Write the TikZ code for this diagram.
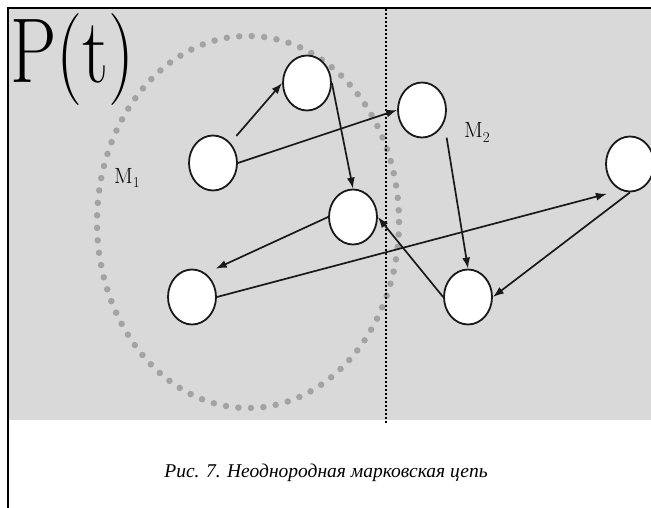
\documentclass[tikz,border=0pt]{standalone}
\usepackage{fontspec}
\setmainfont{Liberation Serif}
\newfontfamily\lmfont{Latin Modern Roman}
\usetikzlibrary{shapes.geometric,arrows.meta}
\definecolor{bg}{RGB}{217,217,217}
\definecolor{dotgray}{RGB}{163,163,163}
\definecolor{edgec}{RGB}{25,25,25}
\tikzset{
  state/.style={ellipse, draw=edgec, line width=1.8pt, fill=white,
    minimum width=48pt, minimum height=55pt, inner sep=0pt},
  arr/.style={draw=edgec, line width=1.7pt, -{Latex[length=11pt,width=8pt]}},
  lbl/.style={anchor=base west, inner sep=0pt, font=\lmfont\fontsize{22}{22}\selectfont},
  frame/.style={draw=black, line width=2pt},
}
\begin{document}
\begin{tikzpicture}[x=1pt,y=-1pt]
\useasboundingbox (0,0) rectangle (651,508);
% background panel
\fill[bg] (9,9) rectangle (651,420);
% frame lines
\draw[frame] (7,8) -- (651,8);
\draw[frame] (8,7) -- (8,508);
% dotted region M1
\draw[dotgray, line width=6.5pt, line cap=round, dash pattern=on 0pt off 12.5pt]
  (248,222) ellipse [x radius=151, y radius=186];
% dotted divider
\draw[black, line width=2pt, dash pattern=on 2pt off 2pt] (386,9) -- (386,424);
% title
\node[anchor=base west, inner sep=0pt, text=black] (P) at (10,83)
  {\scalebox{0.8}[1]{\lmfont\fontsize{92}{92}\selectfont P(t)}};
% labels
\node[lbl] (M1) at (114,183) {M\raisebox{-0.22em}{\fontsize{15}{15}\selectfont 1}};
\node[lbl] (M2) at (464,138) {M\raisebox{-0.22em}{\fontsize{15}{15}\selectfont 2}};
% states
\node[state] (A) at (213,163) {};
\node[state] (B) at (307,83) {};
\node[state] (C) at (353,217) {};
\node[state] (D) at (422,110) {};
\node[state] (E) at (468,297) {};
\node[state] (F) at (630,164) {};
\node[state] (G) at (192,297) {};
% transitions
\draw[arr, shorten <=9pt] (A) -- (B.west);
\draw[arr] (A.east) -- (D.west);
\draw[arr] (B.east) -- (C.north);
\draw[arr, shorten >=11pt] (C.west) -- (G.60);
\draw[arr, shorten >=14pt] (G.east) -- (F.250);
\draw[arr, shorten <=15pt] (D.330) -- (E.north);
\draw[arr] (E.west) -- (C.east);
\draw[arr] (F.south) -- (E.east);
% caption
\node[anchor=base, inner sep=0pt, font=\rmfamily\itshape\fontsize{19.5}{19.5}\selectfont] (cap) at (326,477)
  {Рис. 7. Неоднородная марковская цепь};
\end{tikzpicture}
\end{document}
